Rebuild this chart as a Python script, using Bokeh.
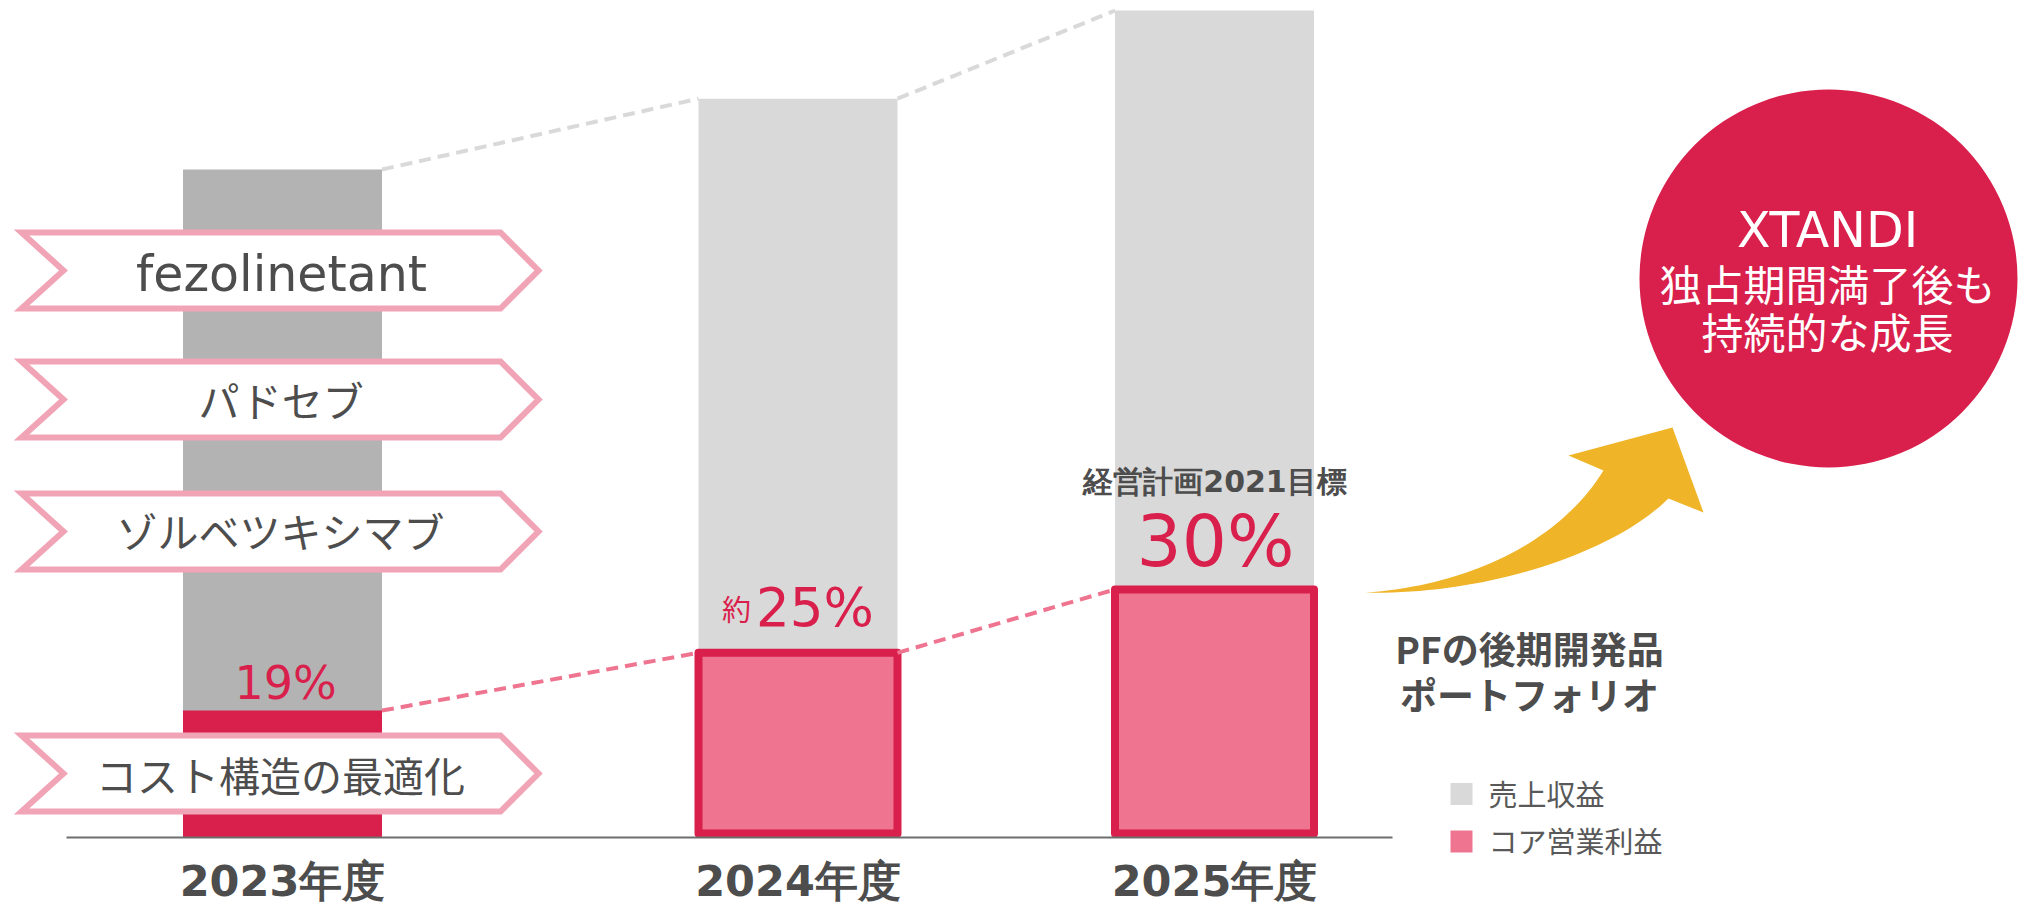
import numpy as np
from bokeh.plotting import figure
from bokeh.models import Range1d
from bokeh.core.properties import value
from bokeh.embed import file_html
from bokeh.resources import INLINE

# ---------------- data ----------------
years = ["2023年度", "2024年度", "2025年度"]
revenue = [100.0, 110.6, 123.8]      # 売上収益 (index, FY2023 = 100)
core_margin = [19, 25, 30]           # コア営業利益率 (%)
margin_prefix = ["", "約", ""]
target_caption = "経営計画2021目標"
ribbon_labels = ["fezolinetant", "パドセブ", "ゾルベツキシマブ", "コスト構造の最適化"]
legend_labels = ["売上収益", "コア営業利益"]
growth_lines = ["XTANDI", "独占期間満了後も", "持続的な成長"]
pf_lines = ["PFの後期開発品", "ポートフォリオ"]

core_op = [r * m / 100.0 for r, m in zip(revenue, core_margin)]

# ---------------- layout / style ----------------
FIG_W, FIG_H = 2025, 904
BASE = 837          # pixel row of the baseline
K = 6.68            # px per revenue unit

CRIMSON = "#D91F4B"
PINK = "#EE7490"
GRAY_DARK = "#B3B3B3"
GRAY_LIGHT = "#D9D9D9"
RIBBON = "#F1A4B5"
TEXT = "#4D4D4D"
GOLD = "#EFB427"


def X(px):
    return px


def Y(py):
    return (BASE - py) / K


p = figure(width=FIG_W, height=FIG_H,
           x_range=Range1d(0, FIG_W),
           y_range=Range1d(-(FIG_H - BASE) / K, BASE / K),
           x_axis_type=None, y_axis_type=None,
           toolbar_location=None, output_backend="svg",
           min_border=0, outline_line_color=None,
           background_fill_color="white", border_fill_color="white")

bar_x = [X(282), X(797.5), X(1214)]
bar_w = 199

# revenue bars
p.vbar(x=bar_x, top=revenue, bottom=0, width=bar_w,
       fill_color=[GRAY_DARK, GRAY_LIGHT, GRAY_LIGHT], line_color=None)
# core operating profit, FY2023 (actual)
p.vbar(x=bar_x[:1], top=core_op[:1], bottom=0, width=bar_w,
       fill_color=CRIMSON, line_color=None)
# core operating profit, plan
LW = 8
p.vbar(x=bar_x[1:], top=core_op[1:], bottom=LW / 2 / K, width=bar_w,
       fill_color=PINK, line_color=CRIMSON, line_width=LW, line_join="round")

# dashed connectors
for series, col in ((revenue, GRAY_LIGHT), (core_op, PINK)):
    p.segment(x0=[bar_x[i] + bar_w / 2 for i in range(2)],
              y0=[series[i] for i in range(2)],
              x1=[bar_x[i + 1] - bar_w / 2 for i in range(2)],
              y1=[series[i + 1] for i in range(2)],
              line_color=col, line_width=4, line_dash="12 7")

# baseline
p.line(x=[X(66), X(1392)], y=[0, 0], line_color="#6E6E6E", line_width=2)

# ribbons
rib_tops = [229, 358, 490, 732]
xs, ys = [], []
for t in rib_tops:
    pts = [(21, t + 3), (500, t + 3), (538, t + 41), (500, t + 79), (21, t + 79), (63, t + 41)]
    xs.append([X(a) for a, b in pts])
    ys.append([Y(b) for a, b in pts])
p.patches(xs=xs, ys=ys, fill_color="white", line_color=RIBBON, line_width=6, line_join="miter")


def label(x, y, text, size, color, font, style="normal", align="center"):
    p.text(x=[x], y=[y], text=[text], text_font=value(font), text_font_size=value(f"{size}px"),
           text_color=color, text_font_style=style, text_align=align, text_baseline="middle")


CJK = "Noto Sans CJK JP"
LAT = "DejaVu Sans"

# ribbon texts
label(X(281), Y(274), ribbon_labels[0], 49, TEXT, LAT)
for yc, txt in zip([398, 529, 773], ribbon_labels[1:]):
    label(X(280), Y(yc), txt, 41, TEXT, CJK)

# margin labels
label(bar_x[0] + 3, Y(682), f"{core_margin[0]}%", 46, CRIMSON, LAT)
label(X(736), Y(607), margin_prefix[1], 29, CRIMSON, CJK)
label(X(814.5), Y(607), f"{core_margin[1]}%", 53, CRIMSON, LAT)
label(bar_x[2] + 1, Y(541), f"{core_margin[2]}%", 71, CRIMSON, LAT)
label(bar_x[2] + 0.5, Y(481), target_caption, 30, TEXT, LAT, style="bold")

# category labels
for bx, yr in zip(bar_x, years):
    label(bx, Y(880), yr, 43, TEXT, LAT, style="bold")

# growth circle
p.circle(x=[X(1828)], y=[Y(278)], radius=189, fill_color=CRIMSON, line_color=None)
label(X(1827), Y(230), growth_lines[0], 49, "white", LAT)
label(X(1827), Y(282), growth_lines[1], 42, "white", CJK)
label(X(1827), Y(330), growth_lines[2], 42, "white", CJK)


# curved arrow
def cubic(p0, p1, p2, p3, n=40):
    t = np.linspace(0, 1, n)[:, None]
    P = [np.array(v, float) for v in (p0, p1, p2, p3)]
    return ((1 - t) ** 3) * P[0] + 3 * ((1 - t) ** 2) * t * P[1] + 3 * (1 - t) * t ** 2 * P[2] + t ** 3 * P[3]


upper = cubic((1365, 592), (1470, 585), (1560, 540), (1603, 470))
head = np.array([(1568, 455), (1672, 427), (1703, 512)], float)
lower = cubic((1668, 498), (1610, 555), (1480, 595), (1365, 592))
arrow = np.vstack([upper, head, lower])
p.patch(x=[X(a) for a in arrow[:, 0]], y=[Y(b) for b in arrow[:, 1]],
        fill_color=GOLD, line_color=None)

# PF text
label(X(1529), Y(647), pf_lines[0], 37, TEXT, CJK, style="bold")
label(X(1529), Y(693), pf_lines[1], 37, TEXT, CJK, style="bold")

# legend
p.scatter(x=[X(1461)] * 2, y=[Y(793.5), Y(841)], marker="square", size=22,
          fill_color=[GRAY_LIGHT, PINK], line_color=None)
label(X(1488), Y(792), legend_labels[0], 29, "#595959", CJK, align="left")
label(X(1488), Y(839), legend_labels[1], 29, "#595959", CJK, align="left")

with open("out.html", "w", encoding="utf-8") as f:
    f.write(file_html(p, INLINE))
